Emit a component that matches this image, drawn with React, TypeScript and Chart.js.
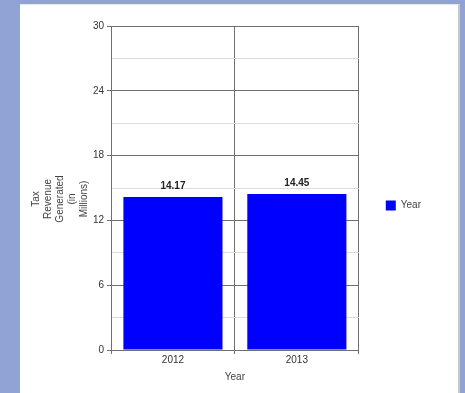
import React, { useEffect, useRef } from "react";
import { Chart, registerables } from "chart.js";

Chart.register(...registerables);

const years = ["2012", "2013"];
const revenue = [14.17, 14.45];
const seriesName = "Year";
const yTitleLines = ["Tax", "Revenue", "Generated", "(in", "Millions)"];
const xTitle = "Year";

const FONT = "'Liberation Sans', Arial, sans-serif";

// Bold value printed above each bar
const valueLabels = {
  id: "valueLabels",
  afterDatasetsDraw(chart: any) {
    const { ctx } = chart;
    ctx.save();
    ctx.font = `bold 10px ${FONT}`;
    ctx.fillStyle = "#222";
    ctx.textAlign = "center";
    ctx.textBaseline = "bottom";
    chart.data.datasets.forEach((ds: any, di: number) => {
      const meta = chart.getDatasetMeta(di);
      meta.data.forEach((bar: any, i: number) => {
        ctx.fillText(Number(ds.data[i]).toFixed(2), bar.x, bar.y - 6);
      });
    });
    ctx.restore();
  },
};

// Stacked, rotated y-axis title centred on the full canvas height
const yAxisTitle = {
  id: "yAxisTitle",
  afterDraw(chart: any) {
    const { ctx } = chart;
    const scale = chart.scales.y;
    const lineH = 12;
    ctx.save();
    ctx.font = `10px ${FONT}`;
    ctx.fillStyle = "#444";
    ctx.textAlign = "center";
    ctx.textBaseline = "middle";
    const cy = chart.height / 2;
    yTitleLines.forEach((line, i) => {
      ctx.save();
      ctx.translate(scale.left + 16 + i * lineH, cy);
      ctx.rotate(-Math.PI / 2);
      ctx.fillText(line, 0, 0);
      ctx.restore();
    });
    ctx.restore();
  },
};

export default function App() {
  const ref = useRef<HTMLCanvasElement | null>(null);

  useEffect(() => {
    if (!ref.current) return;
    const chart = new Chart(ref.current, {
      type: "bar",
      data: {
        labels: years,
        datasets: [
          {
            label: seriesName,
            data: revenue,
            backgroundColor: "#0000ff",
            borderWidth: 0,
            barPercentage: 0.8,
            categoryPercentage: 1,
          },
        ],
      },
      plugins: [valueLabels, yAxisTitle],
      options: {
        animation: false,
        responsive: false,
        layout: { padding: { top: 21, right: 27, bottom: 8, left: 0 } },
        plugins: {
          tooltip: { enabled: false },
          legend: {
            position: "right",
            labels: {
              boxWidth: 10,
              boxHeight: 10,
              padding: 27,
              color: "#444",
              font: { family: FONT, size: 10 },
            },
          },
        },
        scales: {
          x: {
            grid: {
              offset: true,
              color: "#6f6f6f",
              tickColor: "#6f6f6f",
              tickLength: 4,
              lineWidth: 1,
            },
            border: { color: "#6f6f6f" },
            ticks: { color: "#333", font: { family: FONT, size: 10 }, padding: 0 },
            title: {
              display: true,
              text: xTitle,
              color: "#444",
              font: { family: FONT, size: 10 },
              padding: { top: 0, bottom: 2 },
            },
            afterFit(scale: any) {
              scale.height = 35;
            },
          },
          y: {
            min: 0,
            max: 30,
            grid: {
              color: (c: any) => (c.tick && c.tick.value % 6 === 0 ? "#6f6f6f" : "#dcdcdc"),
              tickColor: (c: any) => (c.tick && c.tick.value % 6 === 0 ? "#6f6f6f" : "rgba(0,0,0,0)"),
              tickLength: 4,
            },
            border: { color: "#6f6f6f" },
            ticks: {
              stepSize: 3,
              color: "#333",
              font: { family: FONT, size: 10 },
              padding: 3,
              callback: (v: any) => (Number(v) % 6 === 0 ? String(v) : ""),
            },
            afterFit(scale: any) {
              scale.width = 91;
            },
          },
        },
      },
    });
    return () => chart.destroy();
  }, []);

  return (
    <div
      style={{
        position: "fixed",
        left: 0,
        top: 0,
        width: 465,
        height: 393,
        background: "#8fa3d5",
        overflow: "hidden",
      }}
    >
      <div
        style={{
          position: "absolute",
          left: 20,
          top: 4,
          width: 440,
          height: 389,
          background: "#fff",
          borderTop: "1px solid #e6e6e6",
          borderRight: "2px solid #c9c9c9",
          boxSizing: "border-box",
        }}
      >
        <canvas ref={ref} width={438} height={388} style={{ display: "block" }} />
      </div>
    </div>
  );
}
